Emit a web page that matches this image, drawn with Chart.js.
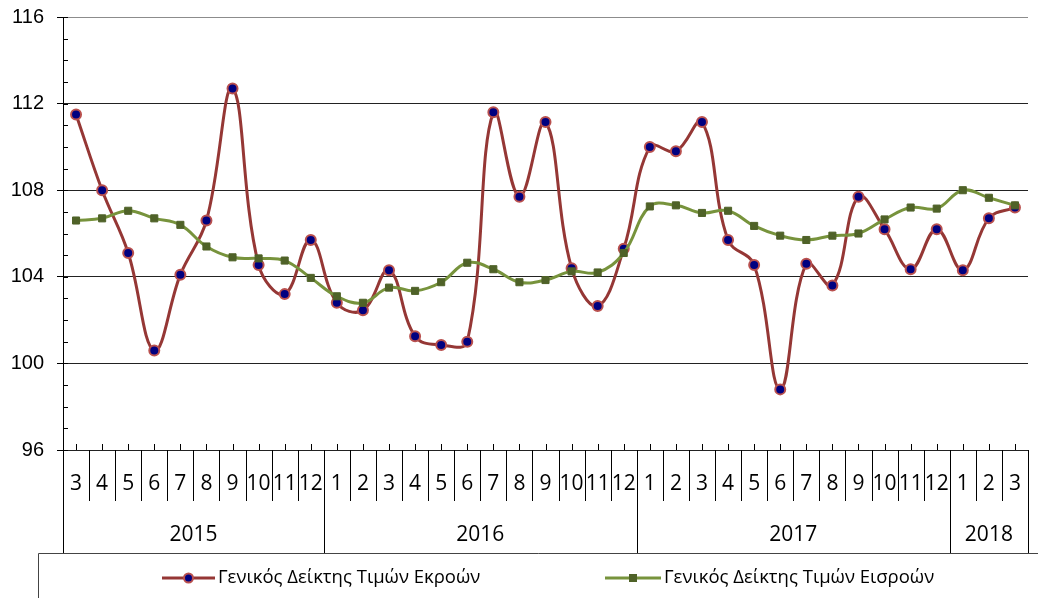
<!DOCTYPE html>
<html>
<head>
<meta charset="utf-8">
<script src="https://cdn.jsdelivr.net/npm/chart.js@4.4.0/dist/chart.umd.min.js"></script>
<style>
  html, body { margin: 0; padding: 0; background: #fff; }
</style>
</head>
<body>
<canvas id="lineChart" width="1038" height="598"></canvas>
<script>
// categories
const months = ['3','4','5','6','7','8','9','10','11','12',
  '1','2','3','4','5','6','7','8','9','10','11','12',
  '1','2','3','4','5','6','7','8','9','10','11','12',
  '1','2','3'];
const yearLabels = ['2015', '2016', '2017', '2018'];
const yearCounts = [10, 12, 12, 3];

// series
const outputIndex = [111.5, 108.0, 105.1, 100.6, 104.1, 106.6, 112.7, 104.55, 103.2, 105.7,
  102.8, 102.45, 104.3, 101.25, 100.85, 101.0, 111.6, 107.7, 111.15, 104.4, 102.65, 105.3,
  110.0, 109.8, 111.15, 105.7, 104.55, 98.8, 104.6, 103.6, 107.7, 106.2, 104.35, 106.2,
  104.3, 106.7, 107.2];
const inputIndex = [106.6, 106.7, 107.05, 106.7, 106.4, 105.4, 104.9, 104.85, 104.75, 103.95,
  103.1, 102.8, 103.5, 103.35, 103.75, 104.65, 104.35, 103.75, 103.85, 104.25, 104.2, 105.1,
  107.25, 107.3, 106.95, 107.05, 106.35, 105.9, 105.7, 105.9, 106.0, 106.65, 107.2, 107.15,
  108.0, 107.65, 107.3];

const yTicks = [96, 100, 104, 108, 112, 116];

const labelFont = '21px "Open Sans", sans-serif';
const legendFont = '18.5px "Open Sans", sans-serif';

const categoryBox = {
  id: 'categoryBox',
  afterDraw(chart) {
    const c = chart.ctx;
    const xs = chart.scales.x;
    const ys = chart.scales.y;
    const area = chart.chartArea;
    const bottom = area.bottom;
    const monthRow = bottom + 51;
    const yearRow = bottom + 103;
    const px = i => xs.getPixelForValue(i);
    const half = (px(1) - px(0)) / 2;

    c.save();
    c.strokeStyle = '#000';
    c.lineWidth = 1;

    // minor ticks on y axis (inside)
    c.beginPath();
    for (let v = ys.min; v <= ys.max; v++) {
      const y = Math.round(ys.getPixelForValue(v)) + 0.5;
      c.moveTo(area.left, y);
      c.lineTo(area.left + 5, y);
    }
    c.stroke();

    // ticks at category centres
    c.beginPath();
    months.forEach((m, i) => {
      const x = Math.round(px(i)) + 0.5;
      c.moveTo(x, bottom - 6);
      c.lineTo(x, bottom);
    });
    c.stroke();

    // month separators and year separators
    const yearStarts = [];
    let acc = 0;
    yearCounts.forEach(n => { yearStarts.push(acc); acc += n; });
    c.beginPath();
    for (let i = 0; i <= months.length; i++) {
      const x = Math.round(i < months.length ? px(i) - half : px(i - 1) + half) + 0.5;
      const isYear = i === 0 || i === months.length || yearStarts.includes(i);
      c.moveTo(x, bottom);
      c.lineTo(x, isYear ? yearRow : monthRow);
    }
    c.stroke();

    // month labels
    c.fillStyle = '#000';
    c.font = labelFont;
    c.textAlign = 'center';
    c.textBaseline = 'middle';
    months.forEach((m, i) => c.fillText(m, px(i), bottom + 34));

    // year labels
    yearLabels.forEach((yl, k) => {
      const s = yearStarts[k];
      const e = s + yearCounts[k] - 1;
      c.fillText(yl, (px(s) + px(e)) / 2, bottom + 85);
    });

    // legend box
    c.strokeStyle = '#444';
    c.beginPath();
    c.moveTo(38.5, yearRow + 0.5);
    c.lineTo(chart.width, yearRow + 0.5);
    c.moveTo(38.5, yearRow + 0.5);
    c.lineTo(38.5, chart.height);
    c.stroke();

    // legend items
    const ly = 578;
    const items = [
      { ds: chart.data.datasets[1], x0: 162, x1: 215, text: 218 },
      { ds: chart.data.datasets[0], x0: 605, x1: 661, text: 664 }
    ];
    items.forEach(it => {
      c.strokeStyle = it.ds.borderColor;
      c.lineWidth = 3;
      c.beginPath();
      c.moveTo(it.x0, ly);
      c.lineTo(it.x1, ly);
      c.stroke();
      const mx = (it.x0 + it.x1) / 2;
      c.fillStyle = it.ds.pointBackgroundColor;
      c.strokeStyle = it.ds.pointBorderColor;
      c.lineWidth = it.ds.pointBorderWidth;
      if (it.ds.pointStyle === 'rect') {
        c.fillRect(mx - 4, ly - 4, 8, 8);
      } else {
        c.beginPath();
        c.arc(mx, ly, 4.5, 0, Math.PI * 2);
        c.fill();
        c.stroke();
      }
      c.fillStyle = '#000';
      c.font = legendFont;
      c.textAlign = 'left';
      c.textBaseline = 'middle';
      c.fillText(it.ds.label, it.text, ly);
    });
    c.restore();
  }
};

new Chart(document.getElementById('lineChart'), {
  type: 'line',
  data: {
    labels: months,
    datasets: [{
      label: 'Γενικός Δείκτης Τιμών Εισροών',
      data: inputIndex,
      borderColor: '#77933c',
      borderWidth: 3,
      tension: 0.4,
      pointStyle: 'rect',
      pointRadius: 5,
      pointBackgroundColor: '#4f6228',
      pointBorderColor: '#4f6228',
      pointBorderWidth: 1,
      order: 0
    }, {
      label: 'Γενικός Δείκτης Τιμών Εκροών',
      data: outputIndex,
      borderColor: '#953735',
      borderWidth: 3,
      tension: 0.4,
      pointStyle: 'circle',
      pointRadius: 5,
      pointBackgroundColor: '#000080',
      pointBorderColor: '#b9504e',
      pointBorderWidth: 2,
      order: 1
    }]
  },
  options: {
    responsive: false,
    animation: false,
    layout: { padding: { top: 17, right: 10, left: 0, bottom: 0 } },
    plugins: {
      legend: { display: false },
      tooltip: { enabled: false },
      title: { display: false }
    },
    scales: {
      x: {
        offset: true,
        ticks: { display: false },
        grid: { display: false, offset: true },
        border: { display: true, color: '#222', width: 1 },
        afterFit: s => { s.height = 148; }
      },
      y: {
        min: 96,
        max: 116,
        afterBuildTicks: s => { s.ticks = yTicks.map(v => ({ value: v })); },
        ticks: {
          font: { family: '"Liberation Sans", Arial', size: 20 },
          color: '#000',
          padding: 13
        },
        grid: {
          drawTicks: true,
          tickLength: 6,
          tickColor: '#000',
          color: ctx => ctx.tick && ctx.tick.value === 116 ? '#8c8c8c' : '#222'
        },
        border: { display: true, color: '#000', width: 1 },
        afterFit: s => { s.width = 63; s.paddingTop = 0; s.paddingBottom = 0; }
      }
    }
  },
  plugins: [categoryBox]
});
</script>
</body>
</html>
